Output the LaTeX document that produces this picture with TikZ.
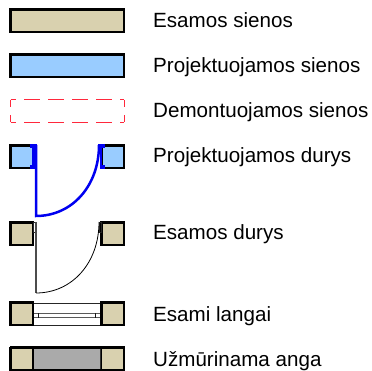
\documentclass[tikz,border=0pt]{standalone}
\usepackage{fontspec}
\setmainfont{Liberation Sans}
\definecolor{esama}{RGB}{217,209,175}
\definecolor{proj}{RGB}{153,204,255}
\definecolor{doorblue}{RGB}{0,0,240}
\definecolor{demont}{RGB}{255,40,60}
\definecolor{uzm}{RGB}{170,170,170}
\tikzset{
  wallbox/.style={draw=black,line width=2.4pt,line join=miter},
  lab/.style={anchor=base west,inner sep=0pt,font=\fontsize{20.6}{24}\selectfont,text=black},
  thinl/.style={draw=black!85,line width=1pt},
  doorb/.style={draw=doorblue,line width=2.5pt},
  dem/.style={draw=demont,line width=1pt},
  demh/.style={dem,dash pattern=on 16pt off 8pt,dash phase=10.5pt},
  demv/.style={dem,dash pattern=on 16pt off 8pt,dash phase=8.5pt},
}
\begin{document}
\begin{tikzpicture}[x=1pt,y=-1pt]
\useasboundingbox (0,0) rectangle (372,371);
% walls
\draw[wallbox,fill=esama] (10.5,9.5) rectangle (124,32);
\draw[wallbox,fill=proj] (10.5,54.5) rectangle (124,77);
\draw[demh] (10.5,100) -- (124,100);
\draw[demh] (10.5,122.3) -- (124,122.3);
\draw[demv] (10.5,100) -- (10.5,122.3);
\draw[demv] (124,100) -- (124,122.3);
% projected door
\draw[wallbox,fill=proj] (10.5,145.5) rectangle (33,168);
\draw[wallbox,fill=proj] (101.5,145.5) rectangle (124,168);
\fill[doorblue] (30,144.5) rectangle (37,148);
\fill[doorblue] (30,165) rectangle (35,169);
\fill[doorblue] (98,144.5) rectangle (105,148);
\fill[doorblue] (100,165) rectangle (105,169);
\draw[doorb] (33.5,145) -- (33.5,168);
\draw[doorb] (101,145) -- (101,168);
\draw[doorb] (36,145) -- (36,216) .. controls (72,216) and (99,186) .. (99,145);
% existing door
\draw[wallbox,fill=esama] (10.5,222.5) rectangle (33,245);
\draw[wallbox,fill=esama] (101.5,222.5) rectangle (124,245);
\draw[thinl,line width=0.7pt] (33,222) rectangle (36,232);
\draw[thinl,line width=0.7pt] (99,222) rectangle (101,232);
\draw[black!70,line width=1.1pt] (36,222) -- (36,293);
\draw[black,line width=0.8pt] (36,293) .. controls (72,293) and (99,263) .. (99,222);
% windows
\draw[thinl] (33,303) -- (101,303) (33,325) -- (101,325);
\draw[black!65,line width=1.2pt] (33,313.5) -- (101,313.5) (33,317.5) -- (101,317.5);
\draw[black!90,line width=0.7pt] (38.5,313) -- (38.5,318) (95.5,313) -- (95.5,318);
\draw[wallbox,fill=esama] (10.5,302.5) rectangle (33,325);
\draw[wallbox,fill=esama] (101.5,302.5) rectangle (124,325);
% blocked opening
\draw[black!80,line width=1.3pt,fill=uzm] (33,347.5) rectangle (101,370);
\draw[wallbox,line width=1.3pt,fill=esama] (10.5,347.5) rectangle (33,370);
\draw[wallbox,line width=1.3pt,fill=esama] (101.5,347.5) rectangle (124,370);
\draw[black,line width=2.2pt] (10,347.5) -- (124.5,347.5) (10,370) -- (124.5,370) (10.5,347) -- (10.5,370.5) (124,347) -- (124,370.5);
% labels
\node[lab] (t1) at (153,27.5) {Esamos sienos};
\node[lab] (t2) at (153,72.5) {Projektuojamos sienos};
\node[lab] (t3) at (153,117.5) {Demontuojamos sienos};
\node[lab] (t4) at (153,162.7) {Projektuojamos durys};
\node[lab] (t5) at (153,240) {Esamos durys};
\node[lab] (t6) at (153,321.7) {Esami langai};
\node[lab] (t7) at (153,366.7) {Užmūrinama anga};
\end{tikzpicture}
\end{document}
